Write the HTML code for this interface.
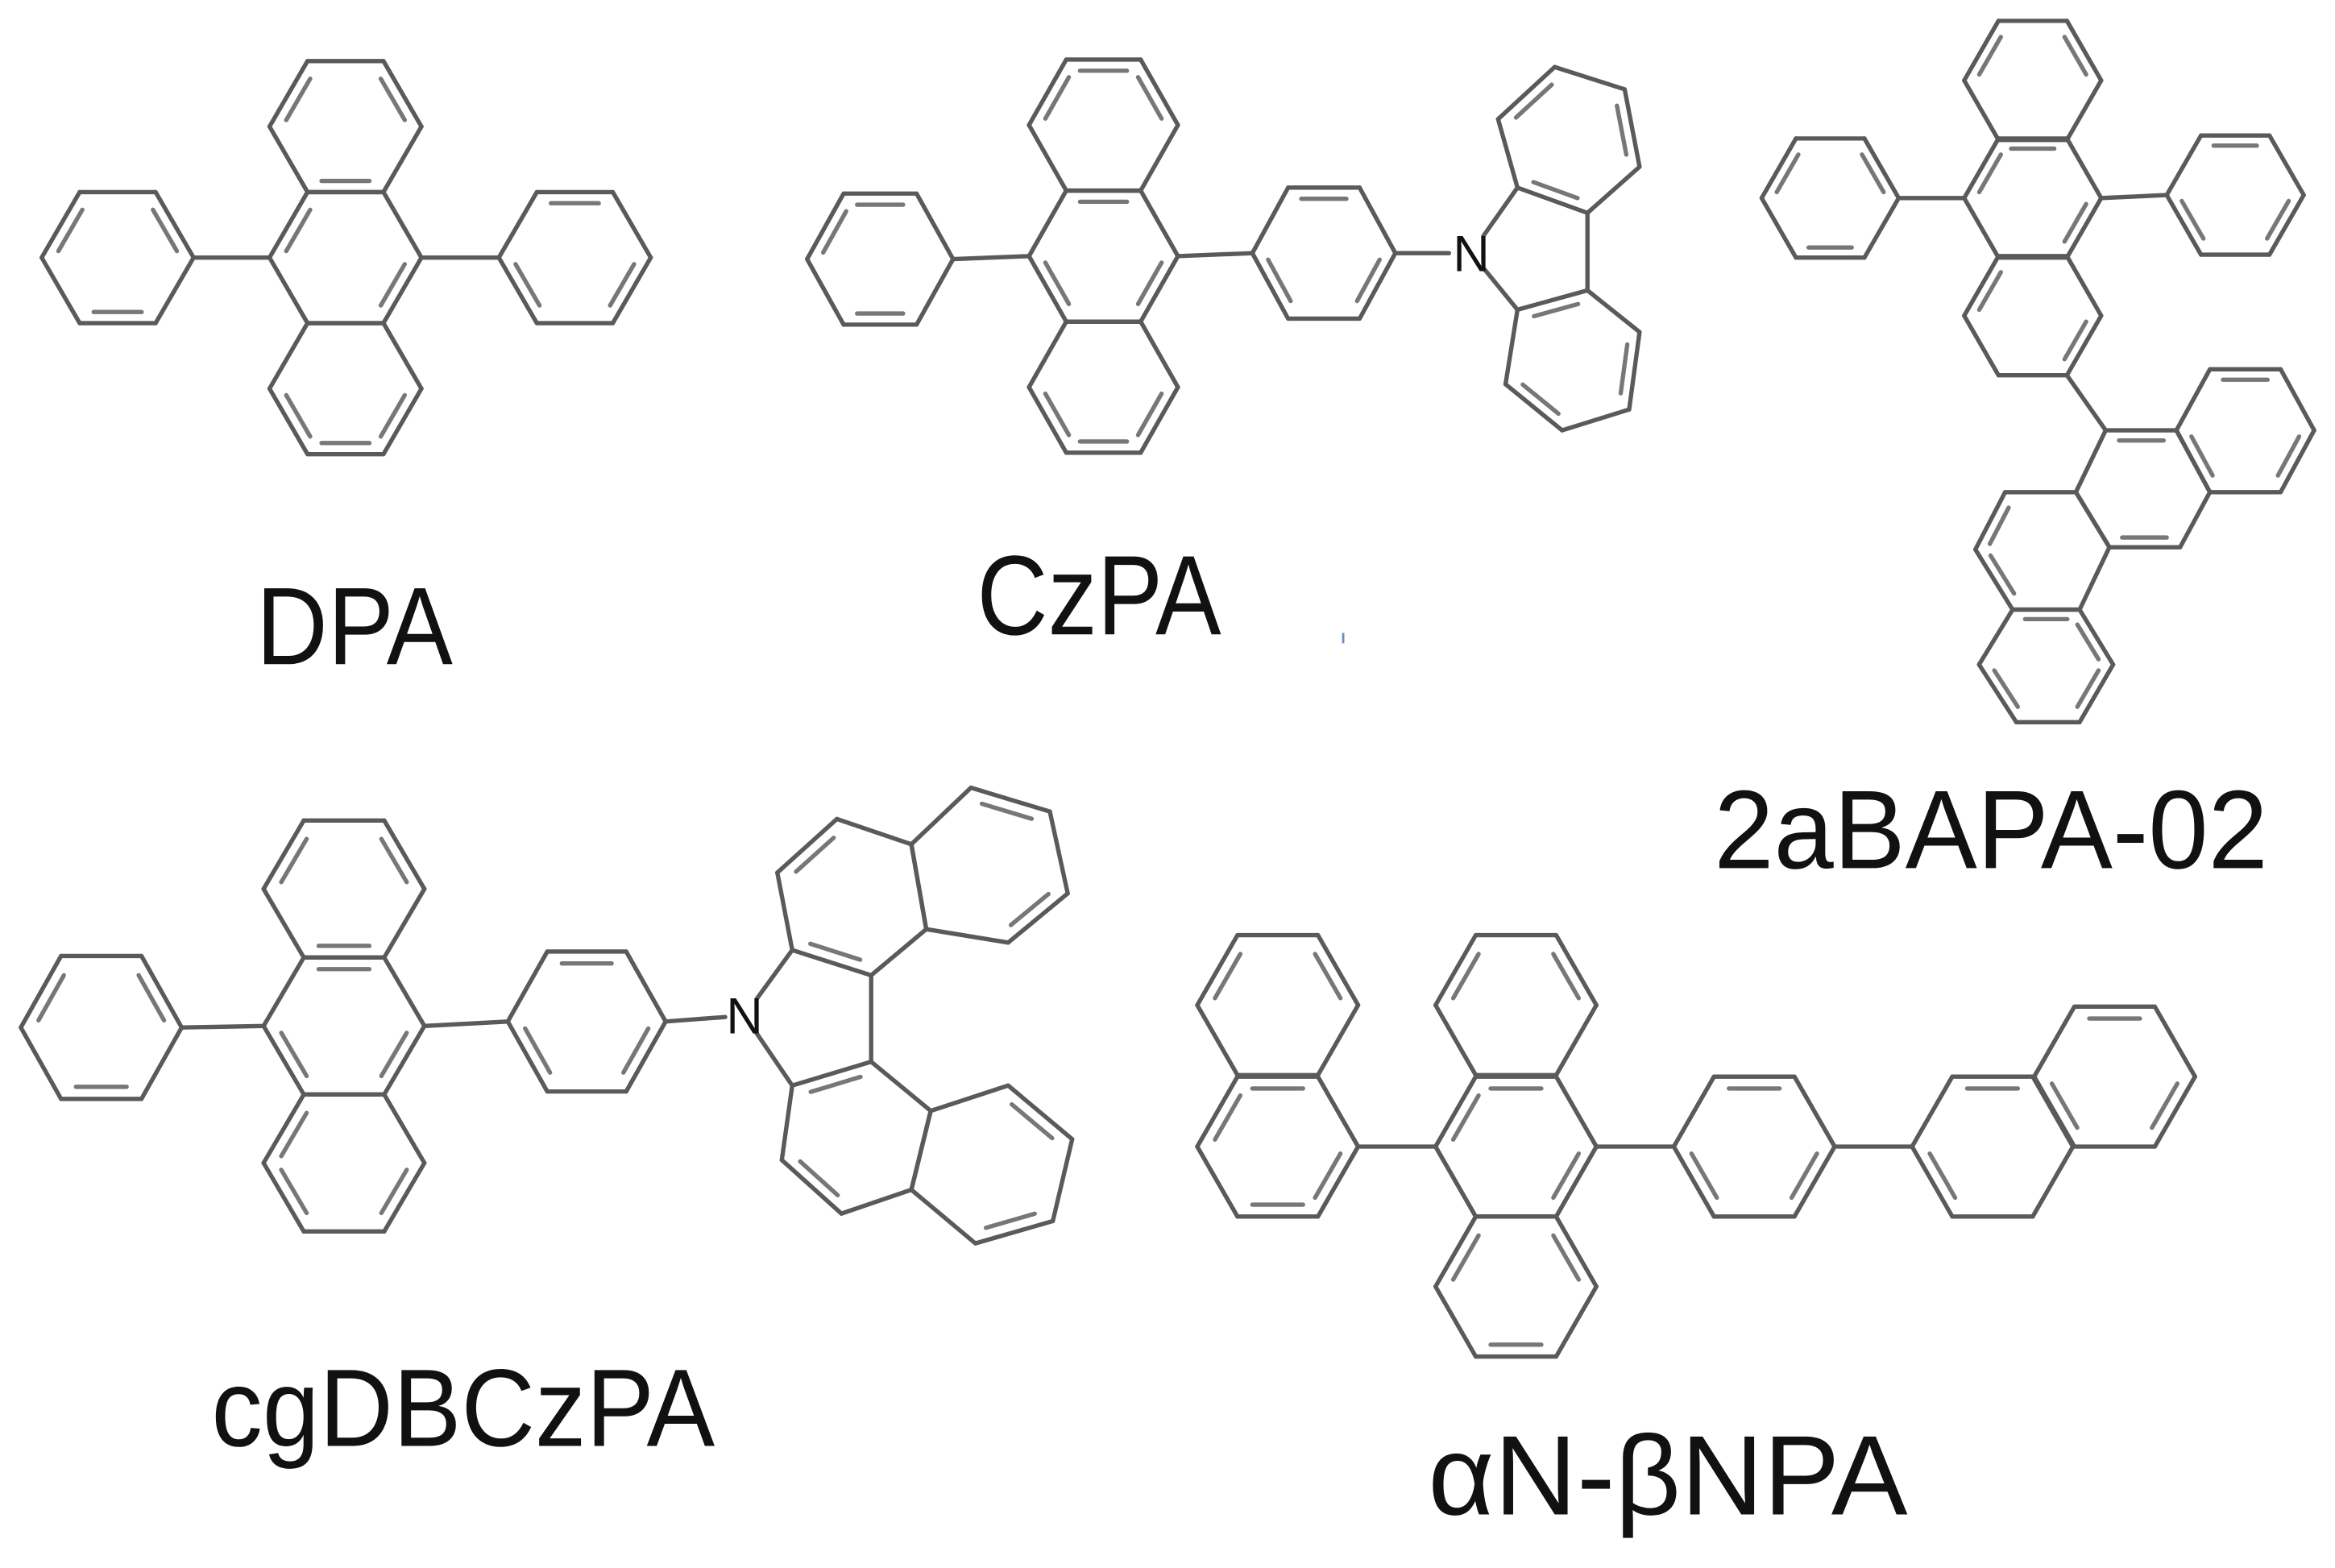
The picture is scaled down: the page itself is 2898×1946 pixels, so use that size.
<!DOCTYPE html>
<html><head><meta charset="utf-8">
<style>
html,body{margin:0;padding:0;background:#fff;}
svg{display:block;}
text{font-family:"Liberation Sans",sans-serif;fill:#111;}
</style></head>
<body>
<svg id="s" width="2898" height="1946" viewBox="0 0 1568 1053" preserveAspectRatio="none" xmlns="http://www.w3.org/2000/svg">
<rect width="1568" height="1053" fill="#fff"/>
<g id="g" stroke="#5a5a5a" stroke-width="2.9" fill="none" stroke-linecap="round" stroke-linejoin="round"></g>
<line x1="902" y1="425" x2="902" y2="432" stroke="#6a8cbf" stroke-width="1.5"/>
<text x="172" y="446" font-size="74" textLength="132" lengthAdjust="spacingAndGlyphs">DPA</text>
<text x="656" y="426" font-size="76" textLength="164" lengthAdjust="spacingAndGlyphs">CzPA</text>
<text x="1151" y="583" font-size="75" textLength="372" lengthAdjust="spacingAndGlyphs">2aBAPA-02</text>
<text x="142" y="971" font-size="74" textLength="338" lengthAdjust="spacingAndGlyphs">cgDBCzPA</text>
<text x="959" y="1017" font-size="76" textLength="322" lengthAdjust="spacingAndGlyphs">αN-βNPA</text>
<text x="988" y="182" font-size="34" text-anchor="middle">N</text>
<text x="500" y="694" font-size="34" text-anchor="middle">N</text>
</svg>
<script>
var out=[];
function L(a,b,c,d,col){out.push('<line x1="'+a+'" y1="'+b+'" x2="'+c+'" y2="'+d+'"'+(col?' stroke="'+col+'"':'')+'/>');}
function hexPts(cx,cy,r,h){return [[cx+r,cy],[cx+r/2,cy+h],[cx-r/2,cy+h],[cx-r,cy],[cx-r/2,cy-h],[cx+r/2,cy-h]];}
function poly(p,dbl,skip){
  var n=p.length,cx=0,cy=0;
  p.forEach(function(q){cx+=q[0];cy+=q[1];});cx/=n;cy/=n;
  for(var i=0;i<n;i++){
    if(skip&&skip.indexOf(i)>=0)continue;
    var a=p[i],b=p[(i+1)%n];L(a[0],a[1],b[0],b[1]);
  }
  (dbl||[]).forEach(function(i){
    var a=p[i],b=p[(i+1)%n];
    var ax=a[0]+(cx-a[0])*0.17,ay=a[1]+(cy-a[1])*0.17;
    var bx=b[0]+(cx-b[0])*0.17,by=b[1]+(cy-b[1])*0.17;
    var dx=bx-ax,dy=by-ay;
    L(ax+dx*0.12,ay+dy*0.12,bx-dx*0.12,by-dy*0.12,'#777');
  });
}
function hx(cx,cy,r,h,d){poly(hexPts(cx,cy,r,h),d);}
function nb(nx,ny,x,y){var dx=x-nx,dy=y-ny,l=Math.sqrt(dx*dx+dy*dy);L(nx+dx/l*14,ny+dy/l*14,x,y);}

/* DPA */
hx(232,85,51,44,[3,5,1]);hx(232,173,51,44,[0,3]);hx(232,261,51,44,[2,0,1]);
hx(79,173,51,44,[3,5,1]);hx(386,173,51,44,[4,0,2]);
L(130,173,181,173);L(283,173,335,173);

/* CzPA */
hx(741,84,50,44,[3,5,4]);hx(741,172,50,44,[4,0,2]);hx(741,260,50,44,[2,0,1]);
hx(591,174,49,44,[4,3,1]);hx(889,170,48,44,[4,0,2]);
L(640,174,691,172);L(791,172,841,170);L(937,170,973,170);
nb(988,170,1019,126);nb(988,170,1019,208);
poly([[1019,126],[1066,143],[1101,112],[1091,60],[1044,45],[1006,80]],[0,2,4]);
poly([[1019,208],[1066,195],[1101,223],[1094,275],[1049,289],[1011,258]],[0,2,4]);
L(1066,143,1066,195);

/* 2aBAPA-02 */
hx(1365,54,46,40,[3,5]);hx(1365,133,46,40,[4,0,3]);hx(1365,212,46,40,[0,3]);
hx(1229,133,46,40,[3,5,1]);hx(1501,131,46,40,[4,0,2]);
L(1275,133,1319,133);L(1411,133,1455,131);L(1388,252,1414,289);
poly([[1484,248],[1531.5,248],[1554,289],[1531.5,330.5],[1484,330.5],[1461.5,289]],[0,2,4]);
poly([[1414,289],[1461.5,289],[1484,330.5],[1464,367.5],[1416.5,367.5],[1394,330.5]],[0,3]);
poly([[1394,330.5],[1416.5,367.5],[1396.5,409.4],[1351.5,409.4],[1326.5,369],[1346.5,330.5]],[3,4]);
poly([[1351.5,409.4],[1396.5,409.4],[1419,446.3],[1396.5,485],[1354,485],[1329,446.3]],[0,1,2,4]);

/* cgDBCzPA */
hx(68,690,54,48,[3,5,1]);
hx(231,597,54,46,[3,5,1]);hx(231,689,54,46,[4,2,0]);hx(231,781,54,46,[0,2,3]);
hx(394,686,53,47,[4,0,2]);
L(122,690,177,689);L(285,689,341,686);L(447,686,487,683);
nb(500,682,532,638);nb(500,682,532,729);
L(585,655,585,713);
poly([[532,638],[585,655],[622,624],[612,567],[562,550],[522,586]],[0,4]);
poly([[612,567],[622,624],[677,633],[717,600],[705,545],[652,529]],[2,4]);
poly([[532,729],[585,713],[625,746],[612,799],[565,815],[525,779]],[0,4]);
poly([[625,746],[677,729],[720,765],[707,820],[655,835],[612,799]],[1,3]);

/* aN-bNPA */
hx(858,675,54,47,[3,5]);hx(858,770,54,47,[3,0,1,4]);
hx(1018,675,54,47,[3,5]);hx(1018,770,54,47,[0,3,4]);hx(1018,864,54,47,[1,3,5]);
hx(1178,770,54,47,[4,0,2]);
hx(1338,770,54,47,[4,2]);hx(1420,723,54,47,[4,0,2]);
L(912,770,964,770);L(1072,770,1124,770);L(1232,770,1284,770);

document.getElementById('g').innerHTML=out.join('');
</script>
</body></html>
